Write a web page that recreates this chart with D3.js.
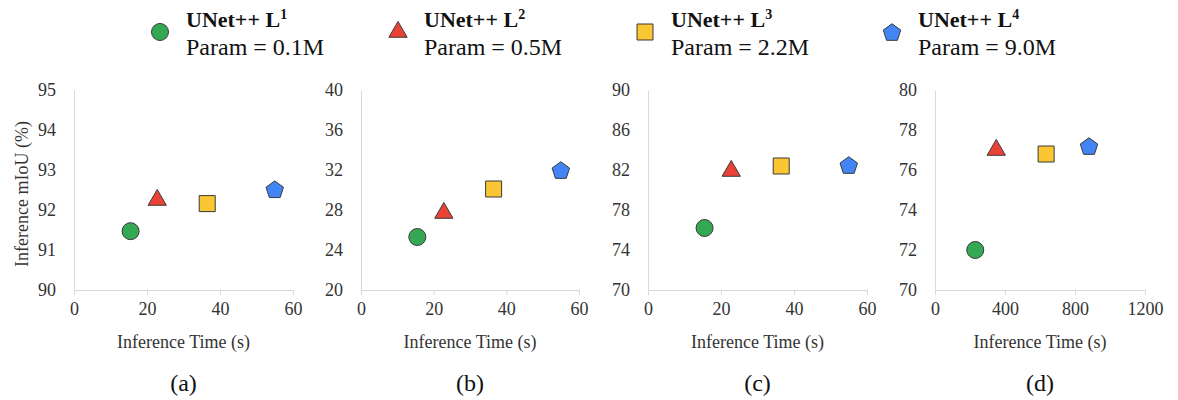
<!DOCTYPE html>
<html>
<head>
<meta charset="utf-8">
<script src="https://cdn.jsdelivr.net/npm/d3@7"></script>
<style>
  body { margin: 0; background: #fff; }
  svg text { font-family: "Liberation Serif", "Times New Roman", serif !important; }
</style>
</head>
<body>
<div id="chart"></div>
<script>
// models and their colours
const models = ['UNet++ L', 'UNet++ L', 'UNet++ L', 'UNet++ L'];
const levels = ['1', '2', '3', '4'];
const params = ['Param = 0.1M', 'Param = 0.5M', 'Param = 2.2M', 'Param = 9.0M'];
const colors = ['#34A853', '#EA4335', '#FBC634', '#4285F4'];

// inference time (s) per panel
const timeA = [15.5, 22.8, 36.5, 55.0];
const timeB = [15.5, 22.8, 36.5, 55.0];
const timeC = [15.5, 22.8, 36.5, 55.0];
const timeD = [230, 350, 635, 880];

// inference mIoU (%) per panel
const iouA = [91.47, 92.25, 92.16, 92.52];
const iouB = [25.3, 27.7, 30.1, 32.0];
const iouC = [76.2, 81.9, 82.4, 82.5];
const iouD = [72.0, 77.0, 76.8, 77.2];

// ticks
const xTicksA = [0, 20, 40, 60];
const xTicksD = [0, 400, 800, 1200];
const yTicksA = [90, 91, 92, 93, 94, 95];
const yTicksB = [20, 24, 28, 32, 36, 40];
const yTicksC = [70, 74, 78, 82, 86, 90];
const yTicksD = [70, 72, 74, 76, 78, 80];

const panelNames = ['(a)', '(b)', '(c)', '(d)'];

const panels = [
  { left: 74, right: 293, times: timeA, iou: iouA, xTicks: xTicksA, yTicks: yTicksA },
  { left: 361, right: 579, times: timeB, iou: iouB, xTicks: xTicksA, yTicks: yTicksB },
  { left: 648, right: 867, times: timeC, iou: iouC, xTicks: xTicksA, yTicks: yTicksC },
  { left: 935, right: 1145, times: timeD, iou: iouD, xTicks: xTicksD, yTicks: yTicksD }
];

const plotTop = 90, plotBottom = 290;
const serif = '"Liberation Serif", "Times New Roman", serif';

// pentagon symbol
const symbolPentagon = {
  draw(context, size) {
    const r = Math.sqrt(size / 2.3776);
    for (let i = 0; i < 5; i++) {
      const a = -Math.PI / 2 + i * 2 * Math.PI / 5;
      const px = r * Math.cos(a), py = r * Math.sin(a) + r * 0.1;
      if (i === 0) context.moveTo(px, py); else context.lineTo(px, py);
    }
    context.closePath();
  }
};
const shapes = [
  d3.symbol(d3.symbolCircle, 227),
  d3.symbol(d3.symbolTriangle, 145),
  d3.symbol(d3.symbolSquare, 256),
  d3.symbol(symbolPentagon, 200)
];

const svg = d3.select('#chart').append('svg')
  .attr('width', 1178)
  .attr('height', 400)
  .style('font-family', serif);

// legend
const legendX = [160, 398, 645, 892];
const legend = svg.selectAll('.legend')
  .data(models)
  .enter().append('g')
  .attr('class', 'legend')
  .attr('transform', (d, i) => `translate(${legendX[i]},32)`);

legend.append('path')
  .attr('d', (d, i) => shapes[i]())
  .attr('fill', (d, i) => colors[i])
  .attr('stroke', '#3a3a3a')
  .attr('stroke-width', 1);

const title = legend.append('text')
  .attr('x', 26)
  .attr('y', -5)
  .attr('font-size', '22px')
  .attr('font-weight', 'bold')
  .attr('fill', '#111');
title.append('tspan').text(d => d);
title.append('tspan')
  .attr('font-size', '14px')
  .attr('dy', -8)
  .text((d, i) => levels[i]);

legend.append('text')
  .attr('x', 26)
  .attr('y', 23)
  .attr('font-size', '24px')
  .attr('fill', '#111')
  .text((d, i) => params[i]);

// panels
panels.forEach((p, k) => {
  const x = d3.scaleLinear()
    .domain(d3.extent(p.xTicks))
    .range([p.left, p.right]);

  const y = d3.scaleLinear()
    .domain(d3.extent(p.yTicks))
    .range([plotBottom, plotTop]);

  const g = svg.append('g');

  const xAxis = g.append('g')
    .attr('transform', `translate(0,${plotBottom})`)
    .call(d3.axisBottom(x).tickValues(p.xTicks).tickFormat(d3.format('d'))
      .tickSize(5).tickPadding(7).tickSizeOuter(0));
  xAxis.attr('font-family', serif);
  xAxis.select('.domain').attr('stroke', '#d9d9d9');
  xAxis.selectAll('.tick line').attr('stroke', '#d9d9d9');
  xAxis.selectAll('.tick text')
    .attr('font-size', '18px')
    .attr('fill', '#333');

  const yAxis = g.append('g')
    .attr('transform', `translate(${p.left},0)`)
    .call(d3.axisLeft(y).tickValues(p.yTicks).tickFormat(d3.format('d'))
      .tickSize(0).tickPadding(18));
  yAxis.attr('font-family', serif);
  yAxis.select('.domain').attr('stroke', '#d9d9d9');
  yAxis.selectAll('.tick text')
    .attr('font-size', '18px')
    .attr('fill', '#333');

  g.selectAll('.dot')
    .data(p.iou)
    .enter().append('path')
    .attr('class', 'dot')
    .attr('transform', (d, i) => `translate(${x(p.times[i])},${y(d)})`)
    .attr('d', (d, i) => shapes[i]())
    .attr('fill', (d, i) => colors[i])
    .attr('stroke', '#3a3a3a')
    .attr('stroke-width', 1);

  const cx = (p.left + p.right) / 2;
  g.append('text')
    .attr('x', cx)
    .attr('y', 348)
    .attr('text-anchor', 'middle')
    .attr('font-size', '18px')
    .attr('fill', '#333')
    .text('Inference Time (s)');

  g.append('text')
    .attr('x', cx)
    .attr('y', 391)
    .attr('text-anchor', 'middle')
    .attr('font-size', '24px')
    .attr('fill', '#111')
    .text(panelNames[k]);
});

// y label, only on first panel
svg.append('text')
  .attr('transform', 'translate(28,194) rotate(-90)')
  .attr('text-anchor', 'middle')
  .attr('font-size', '18px')
  .attr('fill', '#333')
  .text('Inference mIoU (%)');
</script>
</body>
</html>
